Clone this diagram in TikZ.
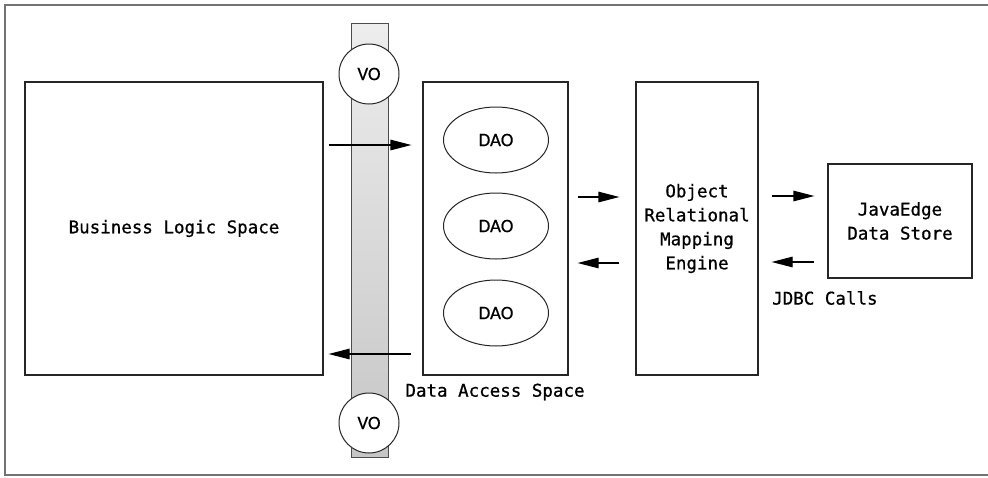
\documentclass[tikz,border=0pt]{standalone}
\usepackage{fontspec}
\setmonofont[FakeBold=0.8]{DejaVu Sans Mono}
\newfontfamily\labelfont[FakeBold=0.5]{Carlito}
\usetikzlibrary{arrows.meta,shapes.geometric}

\begin{document}
\begin{tikzpicture}[x=1pt,y=-1pt,
    spacebox/.style={draw=black!85,line width=1.2pt,rectangle,inner sep=0pt,
      font=\ttfamily\fontsize{17.5}{24}\selectfont,align=center},
    daobubble/.style={draw=black!85,line width=1pt,ellipse,minimum width=105pt,
      minimum height=66pt,inner sep=0pt,font=\labelfont\fontsize{19}{19}\selectfont},
    vobubble/.style={draw=black!85,line width=1pt,circle,fill=white,minimum size=60pt,
      inner sep=0pt,font=\labelfont\fontsize{19}{19}\selectfont},
    caption/.style={font=\ttfamily\fontsize{17.5}{24}\selectfont,inner sep=0pt},
    flow/.style={line width=1.2pt,-{Triangle[length=21pt,width=10.5pt]}}]
        \useasboundingbox (0,0) rectangle (988,477);
        \draw[black!55,line width=2pt] (988,5) -- (5,5) -- (5,475) -- (988,475);

        \node[spacebox,minimum width=298pt,minimum height=293pt] (bls) at (174,228.5) {Business Logic Space};
        \node[draw=black!70,line width=1pt,top color=gray!14,bottom color=gray!45,
          minimum width=37pt,minimum height=434pt,inner sep=0pt] (bar) at (369.5,240) {};
        \node[vobubble] (votop) at (369,74) {VO};
        \node[vobubble] (vobot) at (369,423) {VO};

        \node[spacebox,minimum width=145pt,minimum height=293pt] (das) at (495.5,228.5) {};
        \node[daobubble] (daoa) at (496,140) {DAO};
        \node[daobubble] (daob) at (496,226) {DAO};
        \node[daobubble] (daoc) at (496,313) {DAO};
        \node[caption] (daslabel) at (495,392) {Data Access Space};

        \node[spacebox,minimum width=122pt,minimum height=293pt] (orm) at (697,228.5) {Object\\Relational\\Mapping\\Engine};
        \node[spacebox,minimum width=144pt,minimum height=114pt] (store) at (900,221) {JavaEdge\\Data Store};
        \node[caption,anchor=west] (jdbc) at (772,298) {JDBC Calls};

        \draw[flow,shorten <=5pt,shorten >=11pt] (bls.east |- 0,145) to (das.west |- 0,145);
        \draw[flow,shorten <=11pt,shorten >=5pt] (das.west |- 0,354) to (bls.east |- 0,354);
        \draw[flow,shorten <=9pt,shorten >=16pt] (das.east |- 0,197) to (orm.west |- 0,197);
        \draw[flow,shorten <=16pt,shorten >=9pt] (orm.west |- 0,263) to (das.east |- 0,263);
        \draw[flow,shorten <=13pt,shorten >=13pt] (orm.east |- 0,196) to (store.west |- 0,196);
        \draw[flow,shorten <=13pt,shorten >=13pt] (store.west |- 0,262) to (orm.east |- 0,262);
\end{tikzpicture}
\end{document}
